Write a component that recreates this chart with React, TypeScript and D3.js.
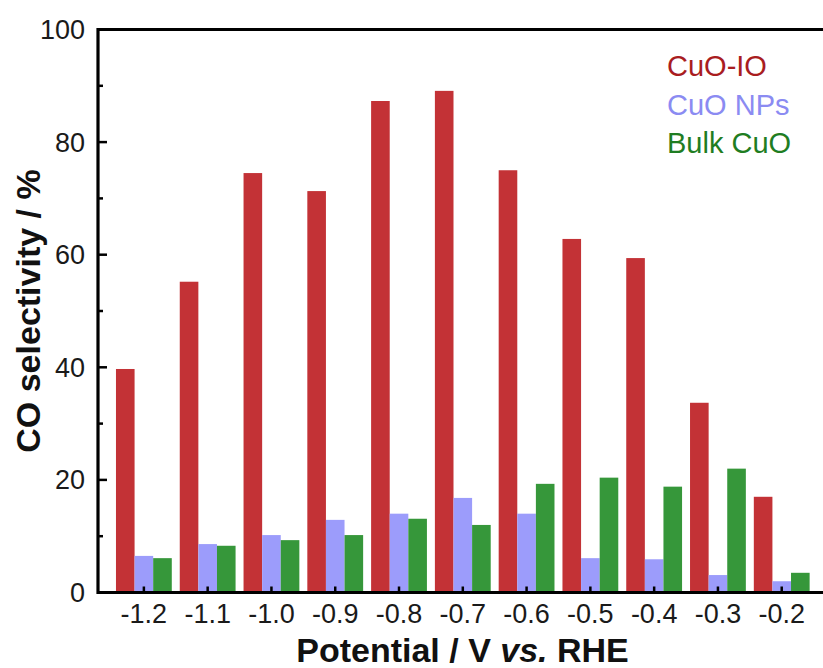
import * as d3 from "d3";
import { useRef, useEffect } from "react";

const potentials = ["-1.2", "-1.1", "-1.0", "-0.9", "-0.8", "-0.7", "-0.6", "-0.5", "-0.4", "-0.3", "-0.2"];
const seriesNames = ["CuO-IO", "CuO NPs", "Bulk CuO"];
const cuoIO = [39.7, 55.2, 74.5, 71.3, 87.3, 89.1, 75.0, 62.8, 59.4, 33.7, 17.0];
const cuoNPs = [6.5, 8.6, 10.2, 12.9, 14.0, 16.8, 14.0, 6.1, 5.9, 3.1, 2.0];
const bulkCuO = [6.1, 8.3, 9.3, 10.2, 13.1, 12.0, 19.3, 20.4, 18.8, 22.0, 3.5];
const yTicks = [0, 20, 40, 60, 80, 100];
const yMinorTicks = [10, 30, 50, 70, 90];

const barColors = ["#c33236", "#9c9cfb", "#36973a"];
const legendColors = ["#a91d1f", "#8b8bf2", "#1f7d22"];

const W = 823;
const H = 668;
const margin = { left: 98, top: 29.5, right: 0, bottom: 75.5 };
const font = "'Liberation Sans', Arial, sans-serif";

const App = () => {
    const chartRef = useRef(null);

    useEffect(() => {
        document.body.style.margin = "0";
        const svg = d3.select(chartRef.current);
        svg.selectAll("*").remove();

        const bottom = H - margin.bottom;

        const scaleX = d3.scaleBand()
            .domain(potentials)
            .range([108, 817.6])
            .padding(0.125);

        const scaleSeries = d3.scaleBand()
            .domain(seriesNames)
            .range([0, scaleX.bandwidth()]);

        const scaleY = d3.scaleLinear()
            .domain([0, 100])
            .range([bottom, margin.top]);

        const allSeries = [cuoIO, cuoNPs, bulkCuO];

        // bars
        allSeries.forEach((values, si) => {
            svg.append("g")
                .selectAll("rect")
                .data(values)
                .enter()
                .append("rect")
                .attr("x", (d, i) => scaleX(potentials[i]) + scaleSeries(seriesNames[si]))
                .attr("y", d => scaleY(d))
                .attr("width", scaleSeries.bandwidth())
                .attr("height", d => bottom - scaleY(d))
                .attr("fill", barColors[si]);
        });

        // frame lines (left, top, bottom)
        const frame = svg.append("g").attr("stroke", "#000").attr("stroke-width", 3.2);
        frame.append("line")
            .attr("x1", margin.left).attr("x2", margin.left)
            .attr("y1", margin.top - 1.6).attr("y2", bottom + 1.6);
        frame.append("line")
            .attr("x1", margin.left).attr("x2", W)
            .attr("y1", margin.top).attr("y2", margin.top);
        frame.append("line")
            .attr("x1", margin.left).attr("x2", W)
            .attr("y1", bottom).attr("y2", bottom);

        // y ticks
        svg.append("g")
            .selectAll("line.major")
            .data(yTicks)
            .enter()
            .append("line")
            .attr("x1", margin.left).attr("x2", margin.left + 9)
            .attr("y1", d => scaleY(d)).attr("y2", d => scaleY(d))
            .attr("stroke", "#000").attr("stroke-width", 2.5);
        svg.append("g")
            .selectAll("line.minor")
            .data(yMinorTicks)
            .enter()
            .append("line")
            .attr("x1", margin.left).attr("x2", margin.left + 5)
            .attr("y1", d => scaleY(d)).attr("y2", d => scaleY(d))
            .attr("stroke", "#000").attr("stroke-width", 2.5);

        svg.append("g")
            .selectAll("text")
            .data(yTicks)
            .enter()
            .append("text")
            .attr("x", 85)
            .attr("y", d => scaleY(d) + 9.5)
            .attr("text-anchor", "end")
            .attr("font-family", font)
            .attr("font-size", 27)
            .attr("fill", "#1a1a1a")
            .text(d => d);

        // x ticks
        svg.append("g")
            .selectAll("line")
            .data(potentials)
            .enter()
            .append("line")
            .attr("x1", d => scaleX(d) + scaleX.bandwidth() / 2)
            .attr("x2", d => scaleX(d) + scaleX.bandwidth() / 2)
            .attr("y1", bottom).attr("y2", bottom - 6)
            .attr("stroke", "#000").attr("stroke-width", 2.5);

        svg.append("g")
            .selectAll("text")
            .data(potentials)
            .enter()
            .append("text")
            .attr("x", d => scaleX(d) + scaleX.bandwidth() / 2)
            .attr("y", 623)
            .attr("text-anchor", "middle")
            .attr("font-family", font)
            .attr("font-size", 27)
            .attr("fill", "#1a1a1a")
            .text(d => d);

        // axis titles
        const xTitle = svg.append("text")
            .attr("x", 462.5)
            .attr("y", 662)
            .attr("text-anchor", "middle")
            .attr("font-family", font)
            .attr("font-size", 34)
            .attr("font-weight", "bold")
            .attr("fill", "#111");
        xTitle.append("tspan").text("Potential / V ");
        xTitle.append("tspan").attr("font-style", "italic").text("vs.");
        xTitle.append("tspan").text(" RHE");

        svg.append("text")
            .attr("transform", "translate(40, 311) rotate(-90)")
            .attr("text-anchor", "middle")
            .attr("font-family", font)
            .attr("font-size", 34)
            .attr("font-weight", "bold")
            .attr("fill", "#111")
            .text("CO selectivity / %");

        // legend
        svg.append("g")
            .selectAll("text")
            .data(seriesNames)
            .enter()
            .append("text")
            .attr("x", 667)
            .attr("y", (d, i) => 76 + i * 38.5)
            .attr("font-family", font)
            .attr("font-size", 29)
            .attr("fill", (d, i) => legendColors[i])
            .text(d => d);
    }, []);

    return (
        <svg ref={chartRef} width={W} height={H} style={{ display: "block" }}></svg>
    );
};

export default App;
